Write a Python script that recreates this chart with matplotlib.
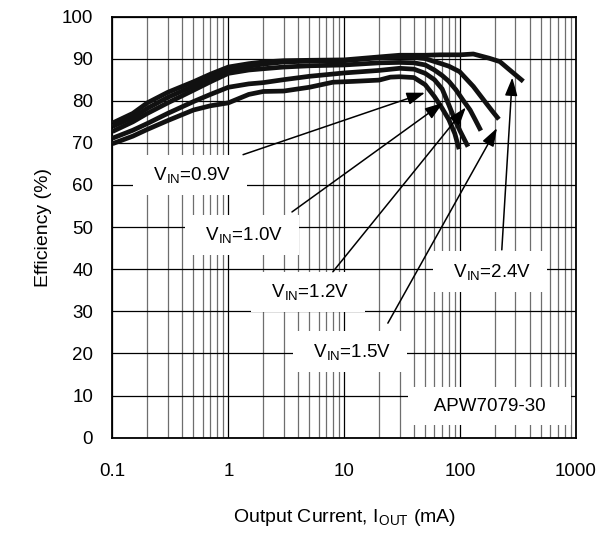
import numpy as np
import matplotlib
matplotlib.use('Agg')
import matplotlib.pyplot as plt
from matplotlib.ticker import LogLocator, NullFormatter

plt.rcParams['font.family'] = ['Liberation Sans', 'DejaVu Sans']
plt.rcParams['mathtext.default'] = 'regular'

# efficiency curves (mA, %)
i_09 = [0.1, 0.15, 0.2, 0.3, 0.5, 0.7, 1, 1.5, 2, 3, 5, 8, 12, 20, 25, 30, 40, 50, 60, 70, 80, 90, 98]
eff_09 = [69.8, 71.6, 73.2, 75.3, 77.8, 78.8, 79.5, 81.5, 82.2, 82.3, 83.2, 84.4, 84.6, 84.9, 85.6, 85.7, 85.5, 83.8, 81.0, 78.2, 75.5, 72.2, 68.5]

i_10 = [0.1, 0.15, 0.2, 0.3, 0.5, 0.7, 1, 1.5, 2, 3, 5, 10, 20, 30, 40, 50, 60, 70, 80, 90, 100, 117]
eff_10 = [71.1, 73.0, 74.6, 77.0, 79.8, 81.5, 83.2, 84.0, 84.3, 85.0, 85.8, 86.6, 87.2, 87.7, 87.5, 86.5, 85.0, 82.8, 79.0, 75.5, 72.8, 69.1]

i_12 = [0.1, 0.15, 0.2, 0.3, 0.5, 0.7, 1, 1.5, 2, 3, 5, 10, 20, 30, 40, 50, 60, 70, 80, 92, 105, 122, 135, 151]
eff_12 = [72.7, 75.0, 77.0, 79.5, 82.5, 84.5, 86.5, 87.3, 87.6, 88.0, 88.3, 88.5, 89.0, 89.1, 89.0, 88.5, 87.3, 86.0, 84.6, 82.6, 80.3, 77.8, 75.5, 72.9]

i_15 = [0.1, 0.15, 0.2, 0.3, 0.5, 0.7, 1, 1.5, 2, 3, 5, 10, 20, 30, 40, 50, 67, 80, 99, 130, 168, 190, 216]
eff_15 = [73.9, 76.0, 78.2, 80.8, 83.5, 85.5, 87.3, 88.2, 88.7, 89.2, 89.4, 89.5, 90.2, 90.4, 90.3, 90.0, 88.9, 88.2, 86.9, 83.4, 79.4, 77.5, 75.6]

i_24 = [0.1, 0.15, 0.2, 0.3, 0.5, 0.7, 1, 1.5, 2, 3, 5, 10, 20, 30, 50, 67, 100, 130, 178, 220, 268, 351]
eff_24 = [74.7, 77.0, 79.5, 82.0, 84.5, 86.3, 88.0, 88.8, 89.2, 89.5, 89.6, 89.7, 90.4, 90.8, 90.8, 90.9, 90.9, 91.1, 90.1, 89.3, 87.3, 84.6]

x_ticks = [0.1, 1, 10, 100, 1000]
x_ticklabels = ['0.1', '1', '10', '100', '1000']
y_ticks = list(range(0, 101, 10))

# labels: text, label position, arrow start and tip (data coords)
vin_labels = ['V$_{IN}$=0.9V', 'V$_{IN}$=1.0V', 'V$_{IN}$=1.2V', 'V$_{IN}$=1.5V', 'V$_{IN}$=2.4V']
label_pos = [(0.468, 62.4), (1.31, 48.1), (4.86, 34.6), (11.2, 20.4), (180.6, 39.4)]
arrow_start = [(1.34, 67.2), (3.54, 53.6), (7.98, 39.4), (23.8, 27.2), (229, 44.6)]
arrow_tip = [(49.7, 81.9), (71.1, 79.5), (112, 78.4), (208, 73.5), (282, 85.5)]

fig = plt.figure(figsize=(6.07, 5.34), dpi=100)
ax = fig.add_axes([0.1853, 0.1803, 0.7636, 0.7888])

for xs, ys in [(i_09, eff_09), (i_10, eff_10), (i_12, eff_12), (i_15, eff_15), (i_24, eff_24)]:
    ax.plot(xs, ys, color='#111111', lw=3.4, solid_joinstyle='round', solid_capstyle='butt', zorder=4)

ax.set_xscale('log')
ax.set_xlim(0.1, 1000)
ax.set_ylim(0, 100)
ax.set_xticks(x_ticks)
ax.set_xticklabels(x_ticklabels)
ax.xaxis.set_minor_locator(LogLocator(base=10, subs=range(2, 10)))
ax.xaxis.set_minor_formatter(NullFormatter())
ax.set_yticks(y_ticks)
ax.grid(which='major', color='black', lw=0.9, zorder=1)
ax.grid(which='minor', axis='x', color='#6e6e6e', lw=0.9, zorder=1)
ax.set_axisbelow(True)
ax.tick_params(which='both', length=0, labelsize=13.5)
ax.tick_params(axis='x', pad=18)
ax.tick_params(axis='y', pad=14)
for s in ax.spines.values():
    s.set_linewidth(1.3)
    s.set_color('black')

ax.set_xlabel('Output Current, I$_{OUT}$ (mA)', fontsize=14, labelpad=20)
ax.set_ylabel('Efficiency (%)', fontsize=14, labelpad=7)

box = dict(boxstyle='square,pad=0.55', fc='white', ec='none')
for txt, pos, st, tip in zip(vin_labels, label_pos, arrow_start, arrow_tip):
    ax.text(pos[0], pos[1], '  ' + txt + '  ', fontsize=13.5, ha='center', va='center',
            bbox=box, zorder=3)
    ax.annotate('', xy=tip, xytext=st,
                arrowprops=dict(arrowstyle='-|>,head_length=1.1,head_width=0.38',
                                mutation_scale=10, lw=1.1, color='black',
                                shrinkA=0, shrinkB=0),
                zorder=5)

ax.text(180.6, 7.5, '   APW7079-30   ', fontsize=13.5, ha='center', va='center',
        bbox=box, zorder=3)

fig.savefig('out.png', dpi=100)
